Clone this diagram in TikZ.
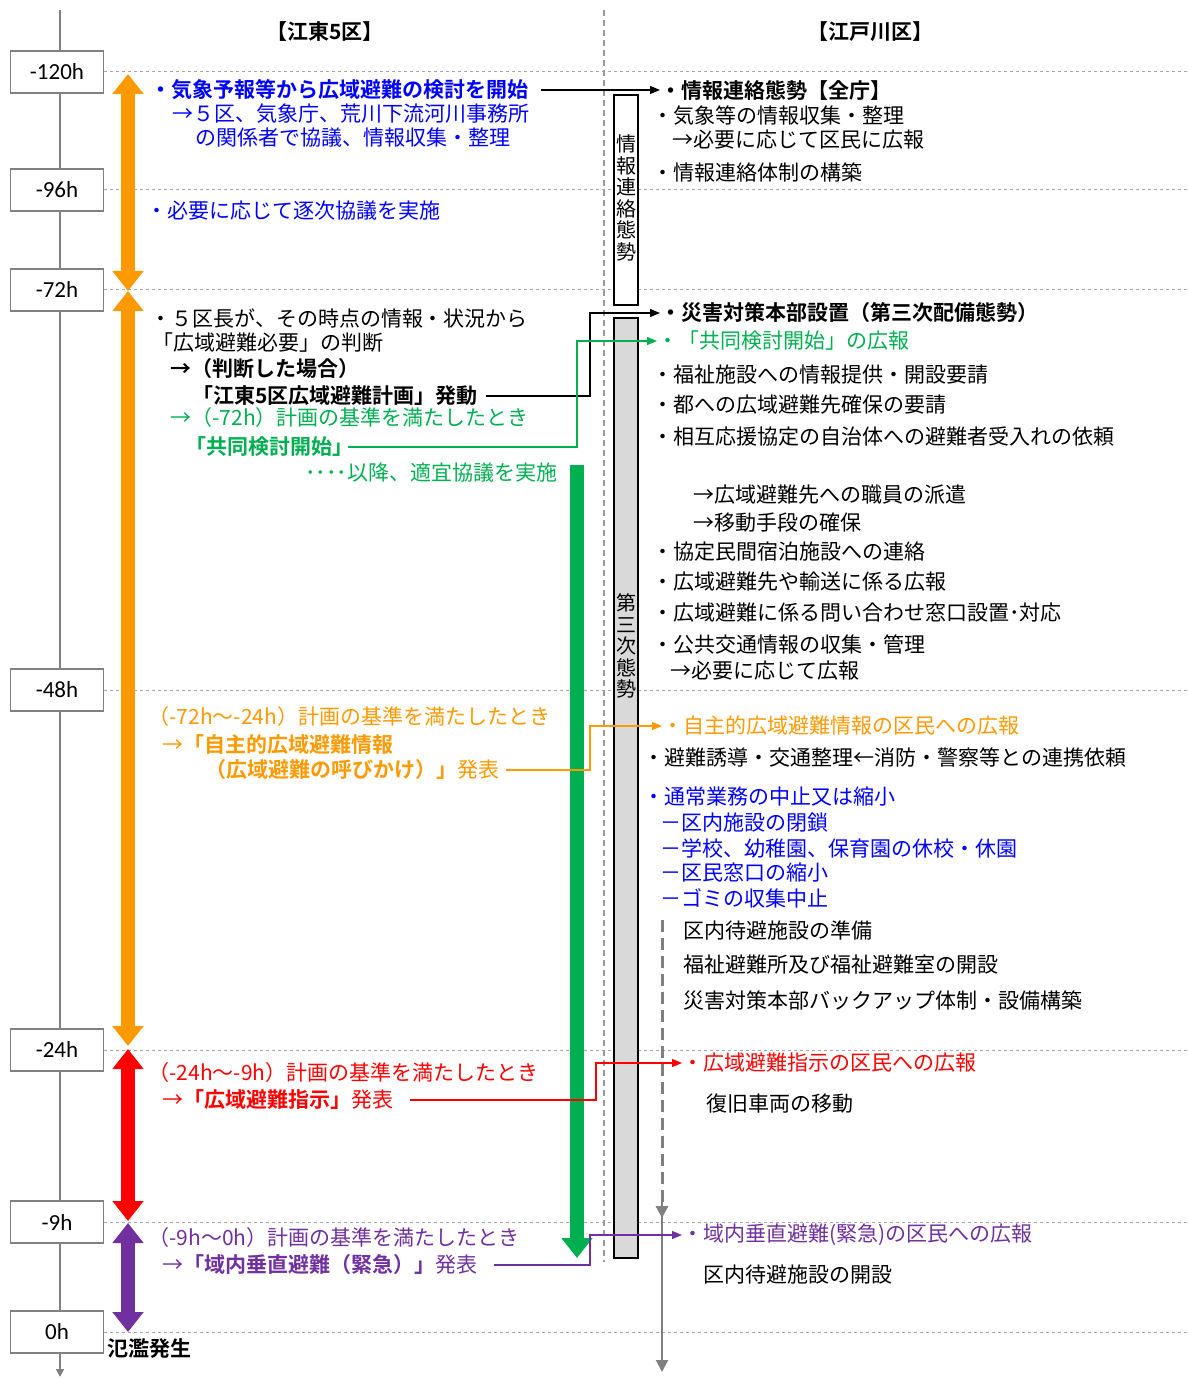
\documentclass[tikz,border=0pt]{standalone}
\usepackage{fontspec}
\setmainfont{Noto Sans CJK JP}[BoldFont={Noto Sans CJK JP Bold}]
\newfontfamily\hourfont{Carlito}
\usetikzlibrary{arrows.meta,calc}
\definecolor{kblue}{HTML}{0000FF}
\definecolor{korange}{HTML}{FF9900}
\definecolor{kgreen}{HTML}{00B050}
\definecolor{kred}{HTML}{FF0000}
\definecolor{kpurple}{HTML}{7030A0}
\definecolor{kgray}{HTML}{808080}
\definecolor{kfill}{HTML}{D9D9D9}
\tikzset{
  txt/.style={anchor=west,inner sep=0pt,font=\fontsize{10.5pt}{12pt}\selectfont},
  btxt/.style={txt,font=\bfseries\fontsize{10.5pt}{12pt}\selectfont},
  hourbox/.style={draw=kgray,line width=0.8pt,fill=white,minimum width=46.5pt,minimum height=21pt,inner sep=0pt,font=\hourfont\fontsize{11.5pt}{12pt}\selectfont},
  hourline/.style={draw=kgray!70,line width=0.5pt,dash pattern=on 1.5pt off 1.5pt},
  conn/.style={line width=0.6pt,-{Triangle[length=5pt,width=4pt]}},
  bigarrow/.style={line width=7pt,{Triangle[width=15pt,length=10pt]}-{Triangle[width=15pt,length=10pt]}},
  vbox/.style={draw,line width=0.8pt,minimum width=12pt,inner sep=0pt},
  vtext/.style={align=center,inner sep=0pt,font=\fontsize{10pt}{10.8pt}\selectfont}
}
\begin{document}
\begin{tikzpicture}[x=0.5pt,y=-0.5pt]
\useasboundingbox (0,0) rectangle (1187,1379);
\coordinate (rt) at (1187,0);
\coordinate (vk) at (590,0);
\coordinate (vg) at (577,0);
\coordinate (vr) at (596,0);
% time axis
\draw[kgray,line width=0.8pt,-{Triangle[length=4pt,width=4pt]}] (60,10) -- (60,1377);
\foreach \lab/\y/\nm in {-120h/72/h120,-96h/190/h96,-72h/290/h72,-48h/690/h48,-24h/1050/h24,-9h/1222/h9,0h/1332/h0}{
  \node[hourbox] (\nm) at (57,\y) {\lab};
  \draw[hourline] (\nm.east) -- (\nm.east -| rt);
}
\draw[kgray!80,line width=0.6pt,dash pattern=on 3pt off 2pt] (604,10) -- (604,1262);
\node[btxt,anchor=center] (koto) at (325,32) {【江東5区】};
\node[btxt,anchor=center] (edo) at (870,32) {【江戸川区】};
% taisei boxes
\node[vbox,fill=white,minimum height=105pt] (joho) at (626,200) {};
\node[vtext] at (626,198) {情\\報\\連\\絡\\態\\勢};
\node[vbox,fill=kfill,minimum height=470pt] (dai3) at (626,788) {};
\node[vtext] at (626,646) {第\\三\\次\\態\\勢};
\draw[kgray,line width=1.5pt,dash pattern=on 6pt off 3pt,-{Triangle[length=6pt,width=6pt]}] (662,920) -- (662,1218);
\draw[kgray,line width=1pt,-{Triangle[length=6pt,width=6pt]}] (662,1200) -- (662,1372);
% phase arrows
\draw[bigarrow,korange] (128,74) -- (128,291);
\draw[bigarrow,korange] (128,291) -- (128,1046);
\draw[bigarrow,kred] (128,1049) -- (128,1221);
\draw[bigarrow,kpurple] (128,1223) -- (128,1332);
\draw[kgreen,line width=7pt,-{Triangle[width=15pt,length=10pt]}] (577,465) -- (577,1258);
% koto 5
\node[btxt,text=kblue] (kento) at (150,90) {・気象予報等から広域避難の検討を開始};
\node[txt,text=kblue] (kento2) at (172,114) {→５区、気象庁、荒川下流河川事務所};
\node[txt,text=kblue] (kento3) at (195,138) {の関係者で協議、情報収集・整理};
\node[txt,text=kblue] (chikuji) at (146,211) {・必要に応じて逐次協議を実施};
\node[txt] (kucho) at (150,318) {・５区長が、その時点の情報・状況から};
\node[txt] (handan) at (152,343) {「広域避難必要」の判断};
\node[btxt] (handan2) at (170,369) {→（判断した場合）};
\node[btxt] (hatsudo) at (192,396) {「江東5区広域避難計画」発動};
\node[txt,text=kgreen] (kijun72) at (170,418) {→（-72h）計画の基準を満たしたとき};
\node[btxt,text=kgreen] (kyodo) at (185,447) {「共同検討開始」};
\node[txt,text=kgreen] (igo) at (305,473) {････以降、適宜協議を実施};
\node[txt,text=korange] (kijun48) at (148,717) {（-72h～-24h）計画の基準を満たしたとき};
\node[txt,text=korange] (jishu) at (162,745) {→\textbf{「自主的広域避難情報}};
\node[txt,text=korange] (jishu2) at (205,770) {\textbf{（広域避難の呼びかけ）」}発表};
\node[txt,text=kred] (kijun24) at (148,1073) {（-24h～-9h）計画の基準を満たしたとき};
\node[txt,text=kred] (shiji) at (162,1100) {→\textbf{「広域避難指示」}発表};
\node[txt,text=kpurple] (kijun9) at (148,1238) {（-9h～0h）計画の基準を満たしたとき};
\node[txt,text=kpurple] (suichoku) at (162,1265) {→\textbf{「域内垂直避難（緊急）」}発表};
\node[btxt] (hanran) at (107,1349) {氾濫発生};
% edogawa
\node[btxt] (zencho) at (660,90) {・情報連絡態勢【全庁】};
\node[txt] (kisho) at (652,116) {・気象等の情報収集・整理};
\node[txt] (kisho2) at (672,140) {→必要に応じて区民に広報};
\node[txt] (taisei) at (652,172) {・情報連絡体制の構築};
\node[btxt] (honbu) at (660,313) {・災害対策本部設置（第三次配備態勢）};
\node[txt,text=kgreen] (kyodokoho) at (657,341) {・「共同検討開始」の広報};
\node[txt] (fukushi) at (652,375) {・福祉施設への情報提供・開設要請};
\node[txt] (to) at (652,405) {・都への広域避難先確保の要請};
\node[txt] (sogo) at (652,437) {・相互応援協定の自治体への避難者受入れの依頼};
\node[txt] (haken) at (693,495) {→広域避難先への職員の派遣};
\node[txt] (shudan) at (693,523) {→移動手段の確保};
\node[txt] (minkan) at (652,552) {・協定民間宿泊施設への連絡};
\node[txt] (yuso) at (652,582) {・広域避難先や輸送に係る広報};
\node[txt] (toiawase) at (652,613) {・広域避難に係る問い合わせ窓口設置･対応};
\node[txt] (kotsu) at (652,645) {・公共交通情報の収集・管理};
\node[txt] (kotsu2) at (670,671) {→必要に応じて広報};
\node[txt,text=korange] (jishukoho) at (662,726) {・自主的広域避難情報の区民への広報};
\node[txt] (yudo) at (643,758) {・避難誘導・交通整理←消防・警察等との連携依頼};
\node[txt,text=kblue] (tsujo) at (643,797) {・通常業務の中止又は縮小};
\node[txt,text=kblue] (heisa) at (660,823) {－区内施設の閉鎖};
\node[txt,text=kblue] (gakko) at (660,848) {－学校、幼稚園、保育園の休校・休園};
\node[txt,text=kblue] (madoguchi) at (660,873) {－区民窓口の縮小};
\node[txt,text=kblue] (gomi) at (660,898) {－ゴミの収集中止};
\node[txt] (junbi) at (683,930) {区内待避施設の準備};
\node[txt] (fukushihinan) at (683,965) {福祉避難所及び福祉避難室の開設};
\node[txt] (backup) at (683,1000) {災害対策本部バックアップ体制・設備構築};
\node[txt,text=kred] (shijikoho) at (682,1063) {・広域避難指示の区民への広報};
\node[txt] (fukkyu) at (706,1104) {復旧車両の移動};
\node[txt,text=kpurple] (suichokukoho) at (682,1235) {・域内垂直避難(緊急)の区民への広報};
\node[txt] (kaisetsu) at (703,1275) {区内待避施設の開設};
% connectors
\draw[conn] ([xshift=6pt]kento.east) -- (zencho.west);
\draw[conn] ([xshift=4pt]hatsudo.east) -- (hatsudo.east -| vk) |- (honbu.west);
\draw[conn,kgreen] ([xshift=-3pt]kyodo.east) -- (kyodo.east -| vg) |- (kyodokoho.west);
\draw[conn,korange] ([xshift=3pt]jishu2.east) -- (jishu2.east -| vk) |- (jishukoho.west);
\draw[conn,kred] ([xshift=8pt]shiji.east) -- (shiji.east -| vr) |- (shijikoho.west);
\draw[conn,kpurple] ([xshift=8pt]suichoku.east) -- (suichoku.east -| vk) |- (suichokukoho.west);
\end{tikzpicture}
\end{document}
